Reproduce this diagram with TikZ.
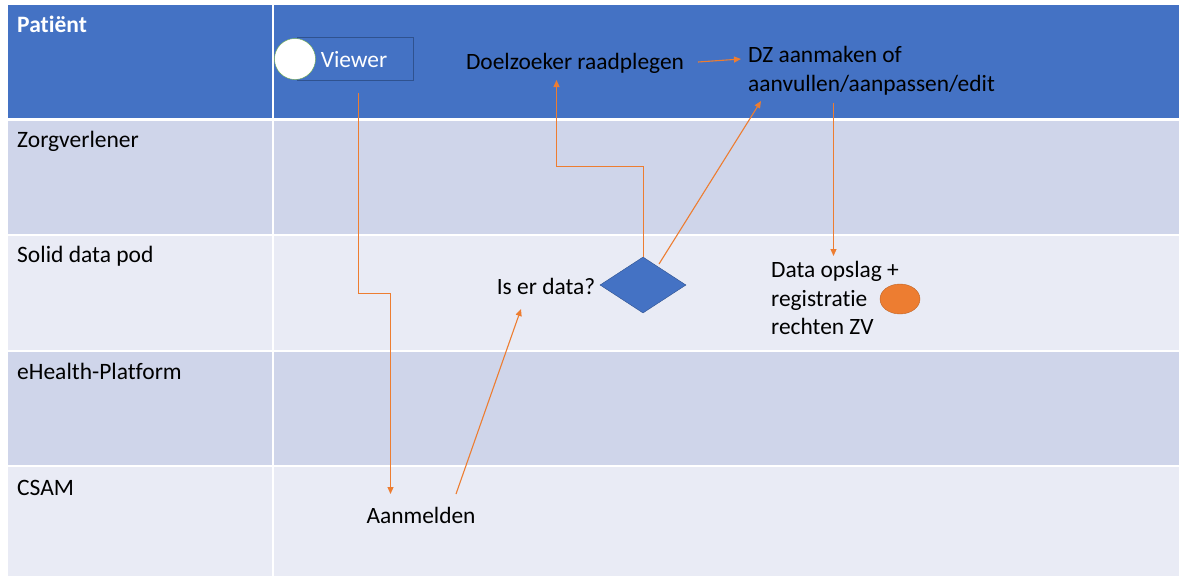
\documentclass[tikz,border=0pt]{standalone}
\usepackage{fontspec}
\setmainfont{Carlito}[RawFeature=-liga]
\usetikzlibrary{shapes.geometric,arrows.meta}
\definecolor{hdr}{HTML}{4472C4}
\definecolor{rowa}{HTML}{CFD5EA}
\definecolor{rowb}{HTML}{E9EBF5}
\definecolor{edge}{HTML}{2F528F}
\definecolor{orng}{HTML}{ED7D31}
\definecolor{grn}{HTML}{70AD47}
\tikzset{
  lanelabel/.style={anchor=west, font=\fontsize{23.5}{28}\selectfont, text=black, inner sep=0pt},
  body/.style={font=\fontsize{23.4}{28.5}\selectfont, text=black, inner sep=0pt},
  flow/.style={draw=orng, line width=1.1pt, -{Triangle[length=7pt,width=6pt]}},
}
\begin{document}
\begin{tikzpicture}[x=1pt,y=-1pt]
\useasboundingbox (0,0) rectangle (1179,576);
% lanes
\fill[white] (0,0) rectangle (1179,576);
\fill[hdr]  (8,5)   rectangle (1179,118);
\fill[rowa] (8,121) rectangle (1179,234);
\fill[rowb] (8,236) rectangle (1179,350);
\fill[rowa] (8,352) rectangle (1179,465);
\fill[rowb] (8,467) rectangle (1179,576);
\draw[white, line width=2pt] (273,5) -- (273,576);
% lane labels
\node[lanelabel, text=white, font=\fontsize{23.5}{28}\selectfont\bfseries] (lp) at (17,24) {Patiënt};
\node[lanelabel] (lz) at (17,141) {Zorgverlener};
\node[lanelabel] (ls) at (17,256) {Solid data pod};
\node[lanelabel] (le) at (17,371) {eHealth-Platform};
\node[lanelabel] (lc) at (17,488) {CSAM};
% viewer
\node[draw=edge, fill=hdr, minimum width=116pt, minimum height=43pt, inner sep=0pt] (viewer) at (355,59) {};
\node[circle, draw=grn, fill=white, minimum size=41pt, inner sep=0pt] (vcirc) at (295,59) {};
\node[font=\fontsize{23.4}{28}\selectfont, text=white, inner sep=0pt] (vtext) at (354,59.5) {Viewer};
% texts
\node[body] (doel) at (575,63.5) {Doelzoeker raadplegen};
\node[body, anchor=west, align=left] (dz) at (748,71) {DZ aanmaken of\\aanvullen/aanpassen/edit};
\node[body] (aan) at (421,515) {Aanmelden};
\node[body] (iser) at (546,286.5) {Is er data?};
\node[body, anchor=west, align=left] (opslag) at (771,298) {Data opslag +\\registratie\\rechten ZV};
\node[diamond, draw=edge, fill=hdr, minimum width=86pt, minimum height=56pt, inner sep=0pt, aspect=1.5] (dia) at (643,285) {};
\node[ellipse, fill=orng, draw=orng!80!black, minimum width=40pt, minimum height=30pt, inner sep=0pt] (dot) at (900,299) {};
% connector coordinates
\coordinate (v1) at (358.5,93);
\coordinate (v2) at (358.5,293.5);
\coordinate (v3) at (390.5,293.5);
\coordinate (v4) at (390.5,494);
\coordinate (a1) at (456,494);
\coordinate (a2) at (521,309);
\coordinate (d0) at (643.5,257);
\coordinate (d1) at (643.5,166.5);
\coordinate (d2) at (556.5,166.5);
\coordinate (d3) at (556.5,80);
\coordinate (e1) at (659,264);
\coordinate (e2) at (761,101);
\coordinate (f1) at (698,62);
\coordinate (f2) at (741,59);
\coordinate (g1) at (833.5,103);
\coordinate (g2) at (833.5,256);
% connectors
\draw[flow] (v1) -- (v2) -- (v3) -- (v4);
\draw[flow] (a1) -- (a2);
\draw[flow] (d0) -- (d1) -- (d2) -- (d3);
\draw[flow] (e1) -- (e2);
\draw[flow] (f1) -- (f2);
\draw[flow] (g1) -- (g2);
\end{tikzpicture}
\end{document}
